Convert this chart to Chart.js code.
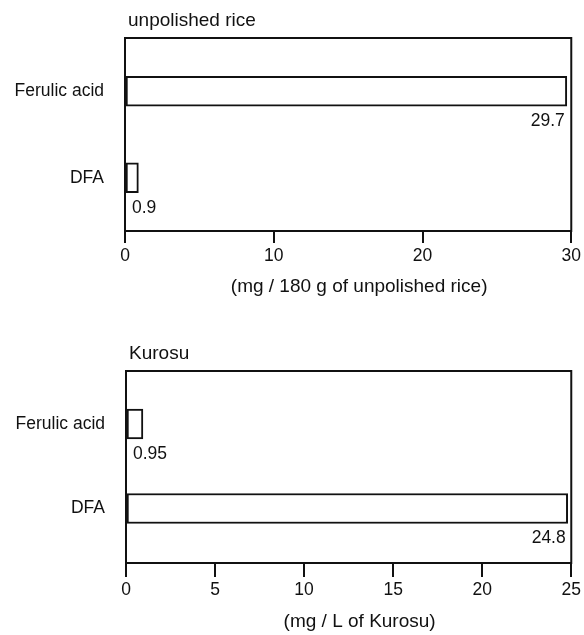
<!DOCTYPE html>
<html lang="en">
<head>
    <meta charset="UTF-8">
    <title>Ferulic acid and DFA</title>
    <style>
        body {
            margin: 0;
            background-color: #fff;
            overflow: hidden;
        }
        .panel {
            position: absolute;
            left: 0;
        }
        #topPanel { top: 0; }
        #bottomPanel { top: 330px; }
    </style>
</head>
<body>
    <div class="panel" id="topPanel"><canvas id="topChart" width="584" height="310"></canvas></div>
    <div class="panel" id="bottomPanel"><canvas id="bottomChart" width="584" height="310"></canvas></div>

    <script src="https://cdn.jsdelivr.net/npm/chart.js"></script>
    <script>
        // data
        const topCategories = ['Ferulic acid', 'DFA'];
        const topValues = [29.7, 0.9];
        const topTicks = [0, 10, 20, 30];
        const topTitle = 'unpolished rice';
        const topAxisTitle = '(mg / 180 g of unpolished rice)';

        const bottomCategories = ['Ferulic acid', 'DFA'];
        const bottomValues = [0.95, 24.8];
        const bottomTicks = [0, 5, 10, 15, 20, 25];
        const bottomTitle = 'Kurosu';
        const bottomAxisTitle = '(mg / L of Kurosu)';

        const FONT = '"Liberation Sans", Arial, sans-serif';
        Chart.defaults.font.family = FONT;
        Chart.defaults.font.size = 17.5;
        Chart.defaults.color = '#111';

        // box around the plot, panel title, axis title and value labels under the bars
        const panelDecor = {
            id: 'panelDecor',
            afterDatasetsDraw(chart, args, opts) {
                const ctx = chart.ctx;
                const area = chart.chartArea;
                ctx.save();
                ctx.strokeStyle = '#111';
                ctx.lineWidth = 2;
                ctx.strokeRect(area.left, area.top, area.right - area.left, area.bottom - area.top);

                ctx.fillStyle = '#111';
                ctx.font = '19px ' + FONT;
                ctx.textBaseline = 'alphabetic';
                ctx.textAlign = 'left';
                ctx.fillText(opts.title, area.left + 3, area.top - 12);

                ctx.textAlign = 'center';
                ctx.textBaseline = 'middle';
                ctx.fillText(opts.axisTitle, (area.left + area.right) / 2 + 11, opts.axisTitleY);

                const meta = chart.getDatasetMeta(0);
                const values = chart.data.datasets[0].data;
                ctx.font = '17.5px ' + FONT;
                meta.data.forEach((bar, i) => {
                    const p = bar.getProps(['x', 'y', 'base', 'height'], true);
                    const text = String(values[i].x);
                    const y = p.y + p.height / 2 + 15;
                    if (p.x - p.base > 60) {
                        ctx.textAlign = 'right';
                        ctx.fillText(text, p.x - 2, y);
                    } else {
                        ctx.textAlign = 'left';
                        ctx.fillText(text, p.base + 6, y);
                    }
                });
                ctx.restore();
            }
        };

        function makePanel(id, cats, vals, ticks, title, axisTitle, geo) {
            const ctx = document.getElementById(id).getContext('2d');
            return new Chart(ctx, {
                type: 'bar',
                data: {
                    datasets: [{
                        data: vals.map((v, i) => ({ x: v, y: i })),
                        backgroundColor: '#fff',
                        borderColor: '#111',
                        borderWidth: 2,
                        borderSkipped: false,
                        barThickness: 30
                    }]
                },
                options: {
                    indexAxis: 'y',
                    responsive: false,
                    animation: false,
                    layout: {
                        padding: { top: geo.top, right: geo.right, left: 0, bottom: 0 }
                    },
                    plugins: {
                        legend: { display: false },
                        tooltip: { enabled: false },
                        panelDecor: { title: title, axisTitle: axisTitle, axisTitleY: geo.titleY }
                    },
                    scales: {
                        x: {
                            type: 'linear',
                            min: ticks[0],
                            max: ticks[ticks.length - 1],
                            afterBuildTicks: s => { s.ticks = ticks.map(v => ({ value: v })); },
                            afterFit: s => { s.height = 310 - geo.bottom; },
                            ticks: { padding: 3, maxRotation: 0, autoSkip: false },
                            grid: {
                                drawOnChartArea: false,
                                drawTicks: true,
                                tickLength: geo.tick,
                                color: '#111',
                                lineWidth: 2
                            },
                            border: { display: false }
                        },
                        y: {
                            type: 'linear',
                            offset: false,
                            reverse: true,
                            min: geo.ymin,
                            max: geo.ymax,
                            afterBuildTicks: s => { s.ticks = cats.map((c, i) => ({ value: i })); },
                            afterFit: s => { s.width = geo.left; },
                            ticks: {
                                padding: 13,
                                callback: v => cats[v]
                            },
                            grid: { display: false },
                            border: { display: false }
                        }
                    }
                },
                plugins: [panelDecor]
            });
        }

        makePanel('topChart', topCategories, topValues, topTicks, topTitle, topAxisTitle,
            { top: 38, right: 12, left: 125, bottom: 231, tick: 12, titleY: 287, ymin: -0.616, ymax: 1.616 });
        makePanel('bottomChart', bottomCategories, bottomValues, bottomTicks, bottomTitle, bottomAxisTitle,
            { top: 41, right: 11, left: 126, bottom: 233, tick: 14, titleY: 292, ymin: -0.627, ymax: 1.645 });
    </script>
</body>
</html>
